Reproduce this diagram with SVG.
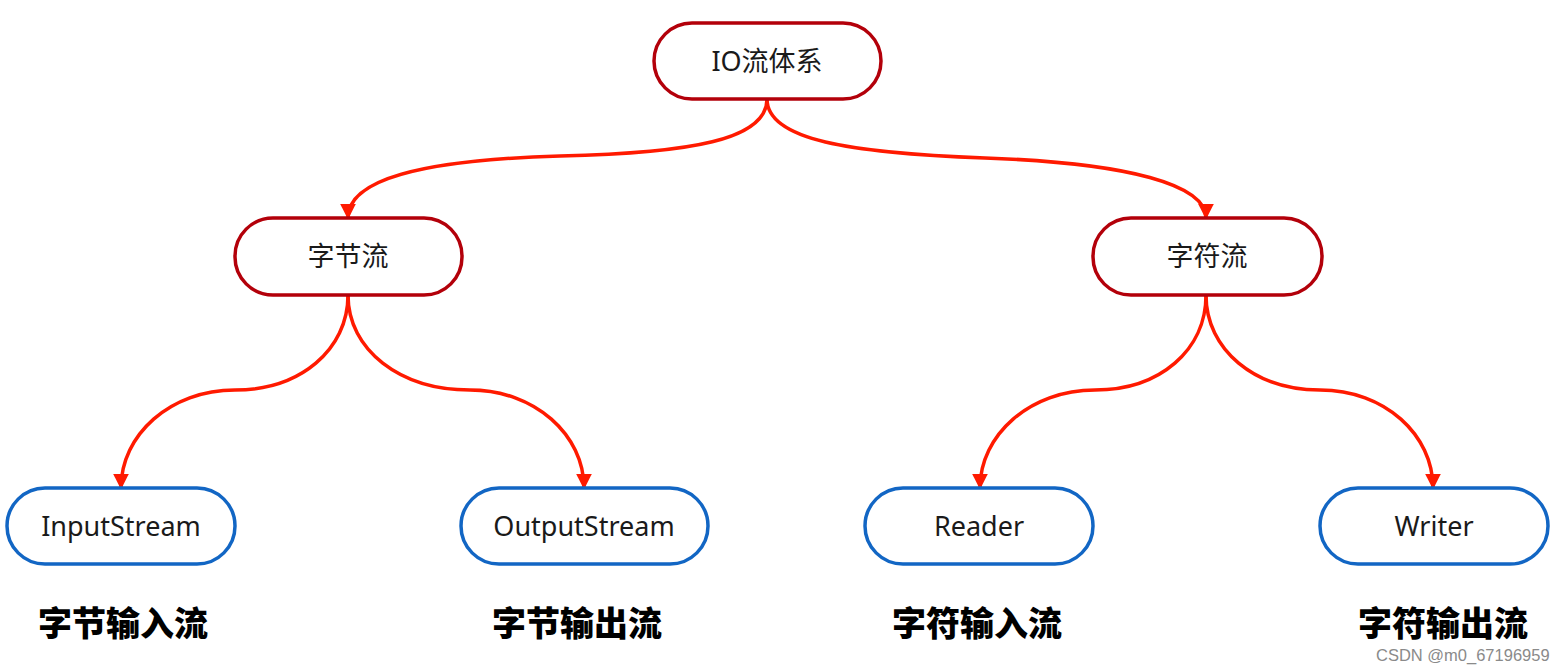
<svg xmlns="http://www.w3.org/2000/svg" width="1566" height="670" viewBox="0 0 1566 670">
<style>
.bg{fill:#ffffff}
.rn{fill:#ffffff;stroke:#b3000a;stroke-width:3.5}
.bn{fill:#ffffff;stroke:#1266c4;stroke-width:3.5}
.t{font-family:"Noto Sans","Noto Sans CJK SC",sans-serif;font-size:27px;fill:#1a1a1a;text-anchor:middle}
.lb{font-family:"Noto Sans CJK SC",sans-serif;font-weight:900;font-size:34px;fill:#000;text-anchor:middle}
.c{fill:none;stroke:#ff1a00;stroke-width:3.5}
.wm{font-family:"Liberation Sans",Arial,sans-serif;font-size:16.5px;fill:#8a8a8a}
</style>
<defs>
<marker id="ah" viewBox="0 0 10 10" refX="9" refY="5" markerWidth="4.5" markerHeight="4.5" orient="auto" markerUnits="strokeWidth">
<path d="M0,0 L10,5 L0,10 z" fill="#ff1a00"/>
</marker>
</defs>
<rect class="bg" x="0" y="0" width="1566" height="670"/>
<g id="connectors">
<path class="c" marker-end="url(#ah)" d="M767,99 C767,140 690,153 560,156 C420,160 348,180 348,218"/>
<path class="c" marker-end="url(#ah)" d="M767,99 C767,140 850,153 985,158 C1130,163 1206,185 1206,218"/>
<path class="c" marker-end="url(#ah)" d="M348,295 C348,350 300,390 235,390 C170,390 121,435 121,488"/>
<path class="c" marker-end="url(#ah)" d="M348,295 C348,350 400,390 470,390 C535,390 584,435 584,488"/>
<path class="c" marker-end="url(#ah)" d="M1206,295 C1206,350 1160,390 1095,390 C1030,390 980,435 980,488"/>
<path class="c" marker-end="url(#ah)" d="M1206,295 C1206,350 1255,390 1320,390 C1385,390 1433,435 1433,488"/>
</g>
<g id="io">
<rect class="rn" x="654" y="23" width="227" height="76" rx="38"/>
<text class="t" x="767" y="71">IO流体系</text>
</g>
<g id="byte">
<rect class="rn" x="235" y="218" width="227" height="77" rx="38"/>
<text class="t" x="348" y="266">字节流</text>
</g>
<g id="char">
<rect class="rn" x="1093" y="218" width="229" height="77" rx="38"/>
<text class="t" x="1207" y="266">字符流</text>
</g>
<g id="inputstream">
<rect class="bn" x="7" y="488" width="228" height="76" rx="38"/>
<text class="t" x="121" y="536">InputStream</text>
</g>
<g id="outputstream">
<rect class="bn" x="461" y="488" width="247" height="76" rx="38"/>
<text class="t" x="584" y="536">OutputStream</text>
</g>
<g id="reader">
<rect class="bn" x="865" y="488" width="228" height="76" rx="38"/>
<text class="t" x="979" y="536">Reader</text>
</g>
<g id="writer">
<rect class="bn" x="1320" y="488" width="228" height="76" rx="38"/>
<text class="t" x="1434" y="536">Writer</text>
</g>
<g id="labels">
<text class="lb" x="123" y="636">字节输入流</text>
<text class="lb" x="577" y="636">字节输出流</text>
<text class="lb" x="977" y="636">字符输入流</text>
<text class="lb" x="1443" y="636">字符输出流</text>
</g>
<text class="wm" x="1376" y="661">CSDN @m0_67196959</text>
</svg>
